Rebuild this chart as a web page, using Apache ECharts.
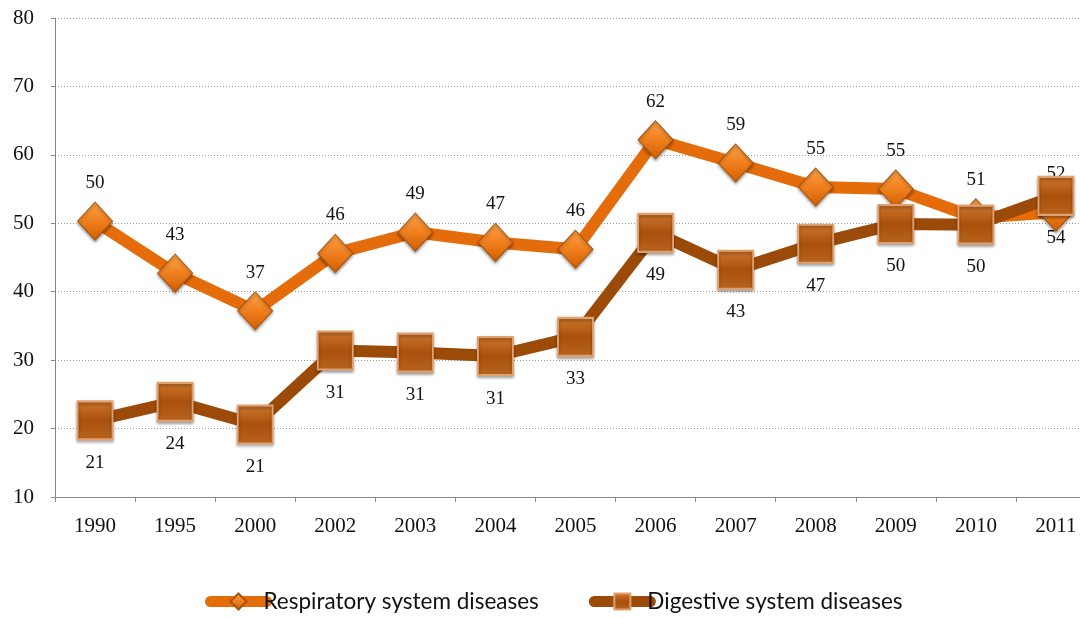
<!DOCTYPE html>
<html>
<head>
<meta charset="utf-8">
<script src="https://cdn.jsdelivr.net/npm/echarts@6/dist/echarts.min.js"></script>
<style>html,body{margin:0;padding:0;background:#fff;overflow:hidden;width:1080px;height:618px}#c{width:1096px;height:618px}</style>
</head>
<body>
<div id="c"></div>
<script>
var years = ['1990','1995','2000','2002','2003','2004','2005','2006','2007','2008','2009','2010','2011'];
var respiratory = [50.3, 42.7, 37.2, 45.6, 48.7, 47.2, 46.2, 62.2, 58.8, 55.3, 55.0, 50.8, 51.6];
var digestive = [21.2, 23.9, 20.6, 31.4, 31.1, 30.6, 33.4, 48.6, 43.2, 47.0, 49.9, 49.8, 54.0];
var seriesNames = ['Respiratory system diseases', 'Digestive system diseases'];

var chart = echarts.init(document.getElementById('c'));
var serif = 'Liberation Serif';
chart.setOption({
  animation: false,
  grid: { left: 55, top: 18, right: 0, height: 479, containLabel: false },
  legend: {
    bottom: 0, left: 200, itemGap: 50, itemWidth: 56, itemHeight: 20,
    textStyle: { fontFamily: 'Lato', fontSize: 22.5, color: '#111', padding: [0, 0, 0, -8] },
    data: [
      { name: seriesNames[0], lineStyle: { width: 11, cap: 'round' } },
      { name: seriesNames[1], lineStyle: { width: 11, cap: 'round' } }
    ]
  },
  xAxis: {
    type: 'category', data: years, boundaryGap: true,
    axisLine: { lineStyle: { color: '#888', width: 1 } },
    axisTick: { show: true, length: 5, lineStyle: { color: '#888' } },
    axisLabel: { margin: 19, fontFamily: serif, fontSize: 21, color: '#111' }
  },
  yAxis: {
    type: 'value', min: 10, max: 80, interval: 10,
    axisLine: { show: true, lineStyle: { color: '#888' } },
    axisTick: { show: true, length: 4, lineStyle: { color: '#888' } },
    splitLine: { lineStyle: { color: '#999', type: [1, 2], width: 1 } },
    axisLabel: { margin: 21, fontFamily: serif, fontSize: 21, color: '#111' }
  },
  series: [
    {
      name: seriesNames[0], type: 'line', data: respiratory,
      symbol: 'diamond', symbolSize: [35, 38],
      lineStyle: { color: '#E46C0A', width: 12 },
      itemStyle: {
        color: new echarts.graphic.LinearGradient(0, 0, 0, 1, [
          { offset: 0, color: '#FBA44A' }, { offset: 0.5, color: '#F07F1E' }, { offset: 1, color: '#D05E00' }
        ]),
        borderColor: '#A85410', borderWidth: 1,
        shadowColor: 'rgba(0,0,0,0.35)', shadowBlur: 3, shadowOffsetY: 2
      },
      label: {
        show: true, position: 'top', distance: 9,
        formatter: function (p) { return Math.round(p.value); },
        fontFamily: serif, fontSize: 19, color: '#111'
      },
      z: 2
    },
    {
      name: seriesNames[1], type: 'line', data: digestive,
      symbol: 'rect', symbolSize: [35, 38],
      lineStyle: { color: '#9C4A07', width: 12 },
      itemStyle: {
        color: new echarts.graphic.LinearGradient(0, 0, 0, 1, [
          { offset: 0, color: '#D0782E' }, { offset: 0.5, color: '#A9500C' }, { offset: 1, color: '#B86420' }
        ]),
        borderColor: '#E0A070', borderWidth: 2,
        shadowColor: 'rgba(0,0,0,0.35)', shadowBlur: 3, shadowOffsetY: 2
      },
      label: {
        show: true, position: 'bottom', distance: 13,
        formatter: function (p) { return Math.round(p.value); },
        fontFamily: serif, fontSize: 19, color: '#111'
      },
      z: 3
    }
  ]
});
</script>
</body>
</html>
